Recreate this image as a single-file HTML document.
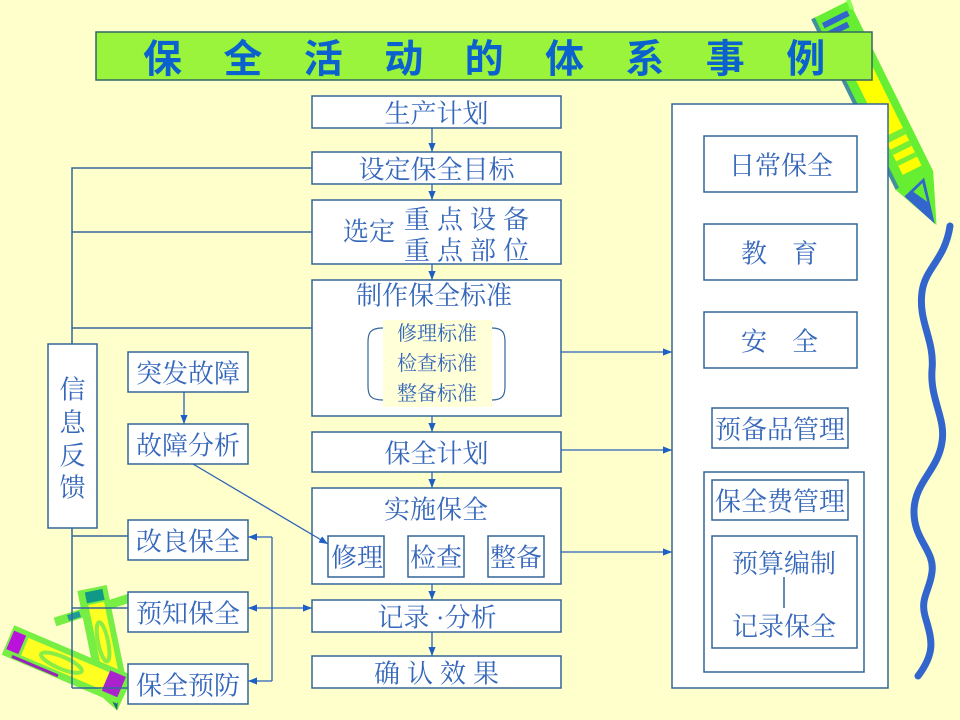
<!DOCTYPE html>
<html><head><meta charset="utf-8">
<style>
html,body{margin:0;padding:0;background:#FFFFCC;}
svg{display:block}
.t{font-family:"Liberation Serif","Noto Serif CJK SC",serif;fill:#3567BA;font-size:26px;text-anchor:middle;dominant-baseline:central;transform:translate(0px,2px)}
.s{font-size:20px}
.ti{font-family:"Liberation Sans","Noto Sans CJK SC",sans-serif;font-weight:bold;fill:#0B62CF;font-size:39px;text-anchor:middle;dominant-baseline:central;transform:translate(0px,2px)}
.b{fill:#FFFFFF;stroke:#336699;stroke-width:1.5}
.l{stroke:#336699;stroke-width:1.5;fill:none}
.a{stroke:#2A62B8;stroke-width:1.3;fill:none}
</style></head><body>
<svg width="960" height="720" viewBox="0 0 960 720" xmlns="http://www.w3.org/2000/svg">
<defs>
<marker id="ah" viewBox="0 0 10 8" refX="10" refY="4" markerWidth="9" markerHeight="8" markerUnits="userSpaceOnUse" orient="auto-start-reverse"><path d="M0,0 L10,4 L0,8 z" fill="#1E60C8"/></marker>
</defs>
<rect x="0" y="0" width="960" height="720" fill="#FFFFCC"/>

<!-- top-right pencil -->
<g transform="translate(830,10) rotate(63.65)">
<polygon points="0,-21 190,-21 240,0 190,21 0,21" fill="#66EE33"/>
<polygon points="-2,-19 0,-23 10,-22 8,-18" fill="#88FF55"/>
<rect x="30" y="-13" width="150" height="21" fill="#FFFF00"/>
<rect x="138" y="-13" width="7" height="21" fill="#77EE33"/>
<rect x="152" y="-13" width="6" height="21" fill="#77EE33"/>
<rect x="165" y="-13" width="5" height="21" fill="#77EE33"/>
<rect x="8" y="-15" width="6" height="28" fill="#3366CC"/>
<rect x="18" y="-10" width="6" height="22" fill="#3366CC"/>
<rect x="0" y="17" width="190" height="4" fill="#3366CC" opacity="0.7"/>
<polygon points="192,-10 238,1 200,16" fill="#3366CC"/>
<polygon points="196,-6 215,-2 200,6" fill="#66EE33"/>
</g>

<!-- wavy line -->
<path d="M950,226 C945,260 925,268 922,292 C918,322 935,340 932,370 C930,400 946,418 942,442 C938,470 915,482 914,510 C913,540 935,550 932,572 C930,590 920,598 925,616 C932,640 936,652 918,676" stroke="#3366CC" stroke-width="7" fill="none" stroke-linecap="round"/>

<!-- bottom-left pencils -->
<line x1="55" y1="622" x2="130" y2="598" stroke="#77EE44" stroke-width="9"/>
<line x1="68" y1="618" x2="80" y2="614" stroke="#229999" stroke-width="6"/>
<g transform="translate(92,588) rotate(78.4)">
<polygon points="0,-15 105,-15 125,0 105,15 0,15" fill="#77EE44"/>
<rect x="16" y="-9" width="84" height="16" fill="#FFFF22"/>
<ellipse cx="55" cy="0" rx="20" ry="5" fill="none" stroke="#88EE44" stroke-width="4"/>
<rect x="3" y="-10" width="11" height="18" fill="#119988"/>
<polygon points="108,-5 125,0 108,5" fill="#226677"/>
</g>
<g transform="translate(8,640) rotate(23)">
<polygon points="0,-16 125,-16 128,0 125,16 0,16" fill="#77EE44"/>
<rect x="18" y="-10" width="88" height="19" fill="#FFFF22"/>
<ellipse cx="58" cy="0" rx="22" ry="6" fill="none" stroke="#88EE44" stroke-width="4"/>
<rect x="2" y="-11" width="13" height="20" fill="#BB11DD"/>
<rect x="106" y="-12" width="17" height="22" fill="#AA22CC"/>
<rect x="10" y="12" width="50" height="3" fill="#9922BB"/>
</g>

<!-- title -->
<rect x="96" y="32" width="776" height="48" fill="#9BF43C" stroke="#336666" stroke-width="1.5"/>
<text class="ti" x="162.5" y="58">保</text>
<text class="ti" x="242.9" y="58">全</text>
<text class="ti" x="323.3" y="58">活</text>
<text class="ti" x="403.7" y="58">动</text>
<text class="ti" x="484.1" y="58">的</text>
<text class="ti" x="564.5" y="58">体</text>
<text class="ti" x="644.9" y="58">系</text>
<text class="ti" x="725.3" y="58">事</text>
<text class="ti" x="805.7" y="58">例</text>

<!-- feedback lines -->
<polyline class="l" points="312,168 72,168 72,344"/>
<line class="l" x1="72" y1="232" x2="312" y2="232"/>
<line class="l" x1="72" y1="328" x2="312" y2="328"/>
<line class="l" x1="72" y1="528" x2="72" y2="688"/>
<line class="l" x1="72" y1="536" x2="128" y2="536"/>
<line class="l" x1="72" y1="608" x2="128" y2="608"/>
<line class="l" x1="72" y1="688" x2="128" y2="688"/>

<!-- center column boxes -->
<rect class="b" x="312" y="96" width="249" height="32"/>
<text class="t" x="436.5" y="112">生产计划</text>
<rect class="b" x="312" y="152" width="249" height="32"/>
<text class="t" x="436.5" y="168">设定保全目标</text>
<rect class="b" x="312" y="200" width="249" height="64"/>
<text class="t" x="369" y="230">选定</text>
<text class="t" x="417" y="218">重</text><text class="t" x="450" y="218">点</text><text class="t" x="483" y="218">设</text><text class="t" x="516" y="218">备</text>
<text class="t" x="417" y="249">重</text><text class="t" x="450" y="249">点</text><text class="t" x="483" y="249">部</text><text class="t" x="516" y="249">位</text>

<rect class="b" x="312" y="280" width="249" height="136"/>
<text class="t" x="434" y="294">制作保全标准</text>
<rect x="383" y="320" width="109" height="87" fill="#FFFFD8"/>
<path class="l" style="stroke-width:1.2" d="M383,328 C370,328 368,333 368,342 L368,386 C368,395 370,400 383,400"/>
<path class="l" style="stroke-width:1.2" d="M492,328 C503,328 505,333 505,342 L505,386 C505,395 503,400 492,400"/>
<text class="t s" x="437" y="332">修理标准</text>
<text class="t s" x="437" y="362">检查标准</text>
<text class="t s" x="437" y="392">整备标准</text>

<rect class="b" x="312" y="432" width="249" height="40"/>
<text class="t" x="436.5" y="452">保全计划</text>

<rect class="b" x="312" y="488" width="249" height="96"/>
<text class="t" x="436" y="508">实施保全</text>
<rect class="b" x="328" y="536" width="56" height="41"/>
<text class="t" x="357" y="556">修理</text>
<rect class="b" x="408" y="536" width="56" height="41"/>
<text class="t" x="436" y="556">检查</text>
<rect class="b" x="488" y="536" width="56" height="41"/>
<text class="t" x="516" y="556">整备</text>

<rect class="b" x="312" y="600" width="249" height="32"/>
<text class="t" x="437" y="616">记录 ·分析</text>
<rect class="b" x="312" y="656" width="249" height="32"/>
<text class="t" x="387" y="672">确</text><text class="t" x="420" y="672">认</text><text class="t" x="453" y="672">效</text><text class="t" x="486" y="672">果</text>

<!-- vertical arrows -->
<line class="a" x1="432" y1="128" x2="432" y2="152" marker-end="url(#ah)"/>
<line class="a" x1="432" y1="184" x2="432" y2="200" marker-end="url(#ah)"/>
<line class="a" x1="432" y1="264" x2="432" y2="280" marker-end="url(#ah)"/>
<line class="a" x1="432" y1="416" x2="432" y2="432" marker-end="url(#ah)"/>
<line class="a" x1="432" y1="472" x2="432" y2="488" marker-end="url(#ah)"/>
<line class="a" x1="432" y1="584" x2="432" y2="600" marker-end="url(#ah)"/>
<line class="a" x1="432" y1="632" x2="432" y2="656" marker-end="url(#ah)"/>

<!-- arrows to right box -->
<line class="a" x1="561" y1="352" x2="672" y2="352" marker-end="url(#ah)"/>
<line class="a" x1="561" y1="450" x2="672" y2="450" marker-end="url(#ah)"/>
<line class="a" x1="561" y1="552" x2="672" y2="552" marker-end="url(#ah)"/>

<!-- right box -->
<rect class="b" x="672" y="104" width="216" height="584"/>
<rect class="b" x="704" y="136" width="153" height="56"/>
<text class="t" x="781" y="164">日常保全</text>
<rect class="b" x="704" y="224" width="153" height="56"/>
<text class="t" x="754" y="252">教</text><text class="t" x="805" y="252">育</text>
<rect class="b" x="704" y="312" width="153" height="56"/>
<text class="t" x="754" y="340">安</text><text class="t" x="805" y="340">全</text>
<rect class="b" x="712" y="408" width="136" height="40"/>
<text class="t" x="780" y="428">预备品管理</text>
<rect class="b" x="704" y="472" width="160" height="200"/>
<rect class="b" x="712" y="480" width="136" height="40"/>
<text class="t" x="780" y="500">保全费管理</text>
<rect class="b" x="712" y="536" width="145" height="112"/>
<text class="t" x="784" y="562">预算编制</text>
<line class="l" x1="784" y1="577" x2="784" y2="608"/>
<text class="t" x="784" y="625">记录保全</text>

<!-- left side -->
<rect class="b" x="48" y="344" width="49" height="184"/>
<text class="t" x="72.5" y="388">信</text>
<text class="t" x="72.5" y="421">息</text>
<text class="t" x="72.5" y="454">反</text>
<text class="t" x="72.5" y="486">馈</text>

<rect class="b" x="128" y="352" width="120" height="40"/>
<text class="t" x="188" y="372">突发故障</text>
<rect class="b" x="128" y="424" width="120" height="40"/>
<text class="t" x="188" y="444">故障分析</text>
<line class="a" x1="184" y1="392" x2="184" y2="424" marker-end="url(#ah)"/>
<line class="a" x1="193" y1="464" x2="328" y2="544" marker-end="url(#ah)"/>

<rect class="b" x="128" y="520" width="120" height="40"/>
<text class="t" x="188" y="540">改良保全</text>
<rect class="b" x="128" y="592" width="120" height="40"/>
<text class="t" x="188" y="612">预知保全</text>
<rect class="b" x="128" y="664" width="120" height="40"/>
<text class="t" x="188" y="684">保全预防</text>

<line class="a" x1="272" y1="537" x2="272" y2="681"/>
<line class="a" x1="272" y1="537" x2="248" y2="537" marker-end="url(#ah)"/>
<line class="a" x1="272" y1="681" x2="248" y2="681" marker-end="url(#ah)"/>
<line class="a" x1="248" y1="608" x2="312" y2="608" marker-start="url(#ah)" marker-end="url(#ah)"/>
</svg>
</body></html>
